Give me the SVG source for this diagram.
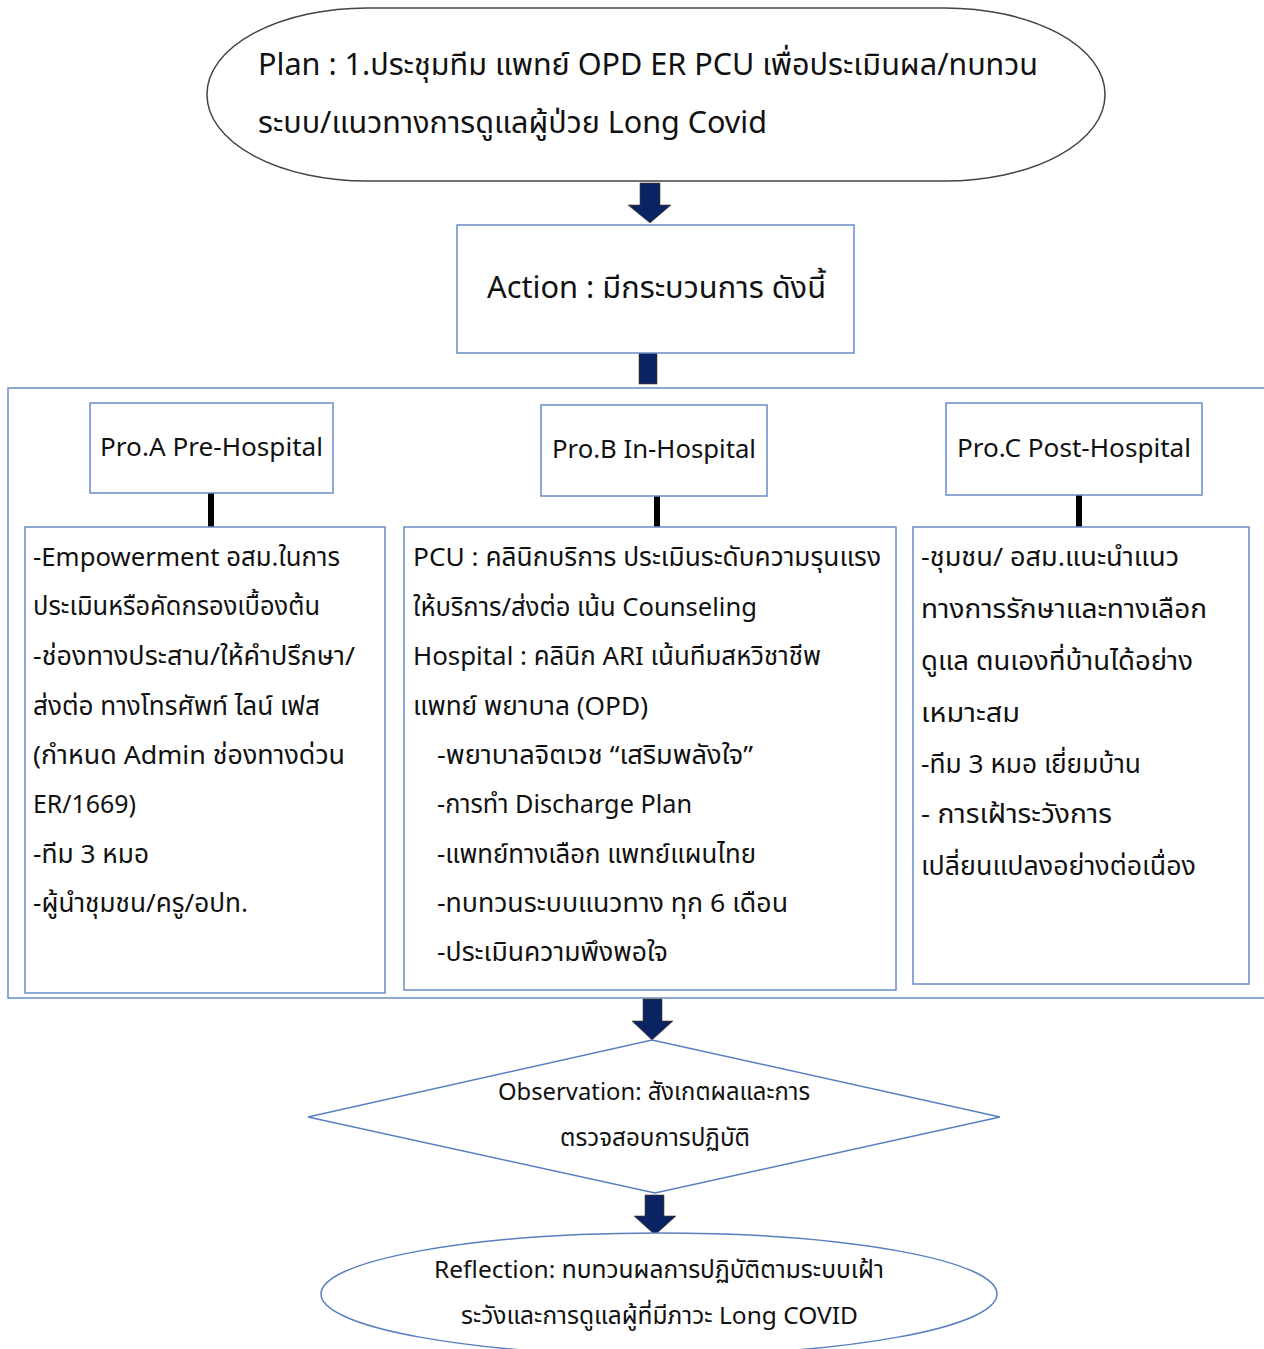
<svg xmlns="http://www.w3.org/2000/svg" width="1264" height="1349" viewBox="0 0 1264 1349">
<defs>
<style>
.t{font-family:"Noto Sans","Noto Sans Thai","DejaVu Sans",sans-serif;fill:#111;}
.b{font-size:26px;}
.box{fill:#fff;stroke:#6a8cc8;stroke-width:1.5;}
.nav{fill:#0a2463;stroke:#5a3a1a;stroke-width:0.6;}
.blk{fill:#000;}
</style>
</defs>
<rect width="1264" height="1349" fill="#fff"/>
<rect x="8" y="388" width="1270" height="610" fill="none" stroke="#6a8cc8" stroke-width="1.5"/>
<g id="connectors">
<path class="nav" d="M640,183 H660 V205 H671 L650,223 L628,205 H640 Z"/>
<rect class="nav" x="639" y="353" width="18" height="31"/>
<rect class="blk" x="208" y="493" width="6" height="34"/>
<rect class="blk" x="654" y="496" width="6" height="33"/>
<rect class="blk" x="1076" y="495" width="6" height="32"/>
<path class="nav" d="M643,999 H662 V1021 H673 L652,1040 L632,1021 H643 Z"/>
<path class="nav" d="M645,1195 H664 V1216 H676 L655,1235 L634,1216 H645 Z"/>
</g>
<g id="plan">
<rect x="207" y="8" width="898" height="173" rx="160" ry="86" fill="#fff" stroke="#444" stroke-width="1.5"/>
<text class="t" x="258" y="75" font-size="30" textLength="780" lengthAdjust="spacingAndGlyphs">Plan : 1.ประชุมทีม แพทย์ OPD ER PCU เพื่อประเมินผล/ทบทวน</text>
<text class="t" x="258" y="133" font-size="30" textLength="509" lengthAdjust="spacingAndGlyphs">ระบบ/แนวทางการดูแลผู้ป่วย Long Covid</text>
</g>
<g id="action">
<rect class="box" x="457" y="225" width="397" height="128"/>
<text class="t" x="487" y="298" font-size="30" textLength="339" lengthAdjust="spacingAndGlyphs">Action : มีกระบวนการ ดังนี้</text>
</g>
<g id="proA">
<rect class="box" x="90" y="403" width="243" height="90"/>
<text class="t" x="100" y="456" font-size="26" textLength="223" lengthAdjust="spacingAndGlyphs">Pro.A Pre-Hospital</text>
</g>
<g id="proB">
<rect class="box" x="541" y="405" width="226" height="91"/>
<text class="t" x="552" y="458" font-size="26" textLength="204" lengthAdjust="spacingAndGlyphs">Pro.B In-Hospital</text>
</g>
<g id="proC">
<rect class="box" x="946" y="403" width="256" height="92"/>
<text class="t" x="957" y="457" font-size="26" textLength="234" lengthAdjust="spacingAndGlyphs">Pro.C Post-Hospital</text>
</g>
<g id="detailA">
<rect class="box" x="25" y="527" width="360" height="466"/>
<g class="t b">
<text x="33" y="566" textLength="307" lengthAdjust="spacingAndGlyphs">-Empowerment อสม.ในการ</text>
<text x="33" y="615" textLength="287" lengthAdjust="spacingAndGlyphs">ประเมินหรือคัดกรองเบื้องต้น</text>
<text x="33" y="665" textLength="322" lengthAdjust="spacingAndGlyphs">-ช่องทางประสาน/ให้คำปรึกษา/</text>
<text x="33" y="715" textLength="287" lengthAdjust="spacingAndGlyphs">ส่งต่อ ทางโทรศัพท์ ไลน์ เฟส</text>
<text x="33" y="764" textLength="312" lengthAdjust="spacingAndGlyphs">(กำหนด  Admin ช่องทางด่วน</text>
<text x="33" y="813" textLength="103" lengthAdjust="spacingAndGlyphs">ER/1669)</text>
<text x="33" y="863" textLength="116" lengthAdjust="spacingAndGlyphs">-ทีม 3 หมอ</text>
<text x="33" y="912" textLength="215" lengthAdjust="spacingAndGlyphs">-ผู้นำชุมชน/ครู/อปท.</text>
</g>
</g>
<g id="detailB">
<rect class="box" x="404" y="527" width="492" height="463"/>
<g class="t b">
<text x="413" y="566" textLength="468" lengthAdjust="spacingAndGlyphs">PCU : คลินิกบริการ  ประเมินระดับความรุนแรง</text>
<text x="413" y="616" textLength="344" lengthAdjust="spacingAndGlyphs">ให้บริการ/ส่งต่อ เน้น Counseling</text>
<text x="413" y="665" textLength="408" lengthAdjust="spacingAndGlyphs">Hospital : คลินิก ARI เน้นทีมสหวิชาชีพ</text>
<text x="413" y="715" textLength="235" lengthAdjust="spacingAndGlyphs">แพทย์ พยาบาล (OPD)</text>
<text x="437" y="764" textLength="316" lengthAdjust="spacingAndGlyphs">-พยาบาลจิตเวช “เสริมพลังใจ”</text>
<text x="437" y="813" textLength="255" lengthAdjust="spacingAndGlyphs">-การทำ Discharge Plan</text>
<text x="437" y="863" textLength="319" lengthAdjust="spacingAndGlyphs">-แพทย์ทางเลือก แพทย์แผนไทย</text>
<text x="437" y="912" textLength="351" lengthAdjust="spacingAndGlyphs">-ทบทวนระบบแนวทาง ทุก 6 เดือน</text>
<text x="437" y="961" textLength="231" lengthAdjust="spacingAndGlyphs">-ประเมินความพึงพอใจ</text>
</g>
</g>
<g id="detailC">
<rect class="box" x="913" y="527" width="336" height="457"/>
<g class="t b">
<text x="921" y="566" textLength="258" lengthAdjust="spacingAndGlyphs">-ชุมชน/ อสม.แนะนำแนว</text>
<text x="921" y="618" textLength="286" lengthAdjust="spacingAndGlyphs">ทางการรักษาและทางเลือก</text>
<text x="921" y="670" textLength="272" lengthAdjust="spacingAndGlyphs">ดูแล ตนเองที่บ้านได้อย่าง</text>
<text x="921" y="722" textLength="99" lengthAdjust="spacingAndGlyphs">เหมาะสม</text>
<text x="921" y="773" textLength="220" lengthAdjust="spacingAndGlyphs">-ทีม 3 หมอ เยี่ยมบ้าน</text>
<text x="921" y="823" textLength="191" lengthAdjust="spacingAndGlyphs">- การเฝ้าระวังการ</text>
<text x="921" y="875" textLength="275" lengthAdjust="spacingAndGlyphs">เปลี่ยนแปลงอย่างต่อเนื่อง</text>
</g>
</g>
<g id="observation">
<path d="M652,1040 L1000,1117 L655,1193 L308,1117 Z" fill="#fff" stroke="#5a7fc0" stroke-width="1.5"/>
<text class="t" x="498" y="1100" font-size="24" textLength="312" lengthAdjust="spacingAndGlyphs">Observation: สังเกตผลและการ</text>
<text class="t" x="560" y="1146" font-size="24" textLength="190" lengthAdjust="spacingAndGlyphs">ตรวจสอบการปฏิบัติ</text>
</g>
<g id="reflection">
<ellipse cx="659" cy="1294" rx="338" ry="61" fill="#fff" stroke="#5a7fc0" stroke-width="1.5"/>
<text class="t" x="434" y="1278" font-size="24" textLength="450" lengthAdjust="spacingAndGlyphs">Reflection: ทบทวนผลการปฏิบัติตามระบบเฝ้า</text>
<text class="t" x="461" y="1324" font-size="24" textLength="397" lengthAdjust="spacingAndGlyphs">ระวังและการดูแลผู้ที่มีภาวะ Long COVID</text>
</g>
</svg>
